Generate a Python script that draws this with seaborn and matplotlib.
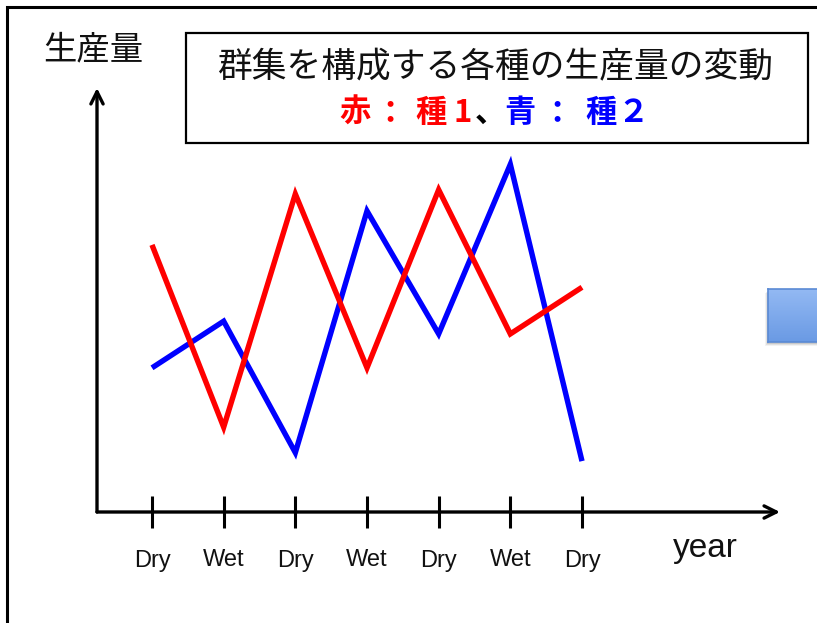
import numpy as np
import pandas as pd
import matplotlib
matplotlib.use("Agg")
import matplotlib.pyplot as plt
import seaborn as sns
from matplotlib.patches import Rectangle

# Seasons along the time axis and production of the two species
seasons = ["Dry", "Wet", "Dry", "Wet", "Dry", "Wet", "Dry"]
species1 = [6.3, 2.0, 7.5, 3.4, 7.6, 4.2, 5.3]   # 種1 (red)
species2 = [3.4, 4.5, 1.4, 7.1, 4.2, 8.2, 1.2]   # 種2 (blue)

title_text = "群集を構成する各種の生産量の変動"
# colour key under the title, one glyph at a time (spaced out like the slide)
key_chars = ["赤", "：", "種", "1", "、", "青", "：", "種", "２"]
key_colors = ["#ff0000"] * 4 + ["#000000"] + ["#0000ff"] * 4
y_label = "生産量"
x_label = "year"

sns.set_theme(style="white")
plt.rcParams["font.family"] = ["Liberation Sans", "Noto Sans CJK JP", "DejaVu Sans"]
JP = ["Noto Sans CJK JP", "DejaVu Sans"]

W, H = 817, 623
fig = plt.figure(figsize=(W / 100, H / 100), dpi=100)
fig.patch.set_facecolor("white")


def fx(x):
    return x / W


def fy(y):
    return 1 - y / H


# slide frame running off the right and bottom edges
fig.add_artist(Rectangle((fx(7), -0.1), 1.2, fy(7) + 0.1, transform=fig.transFigure,
                         fill=False, ec="black", lw=2.2))

# main plotting area: origin at the axis corner, arrows at the far ends
x0, x1, ytop, ybot = 97, 780, 88, 512
first_tick, last_tick = 152, 582
step = (last_tick - first_tick) / (len(seasons) - 1)
ax = fig.add_axes([fx(x0), fy(ybot), (x1 - x0) / W, (ybot - ytop) / H])
ax.set_xlim((x0 - first_tick) / step, (x1 - first_tick) / step)
ax.set_ylim(0, 10)
ax.patch.set_alpha(0)

df = pd.DataFrame({"t": np.arange(len(seasons)), "s1": species1, "s2": species2})
sns.lineplot(data=df, x="t", y="s2", color="#0000ff", lw=3.9, ax=ax,
             solid_capstyle="butt", solid_joinstyle="miter")
sns.lineplot(data=df, x="t", y="s1", color="#ff0000", lw=3.9, ax=ax,
             solid_capstyle="butt", solid_joinstyle="miter")

for s in ax.spines.values():
    s.set_visible(False)
ax.set_xlabel("")
ax.set_ylabel("")
ax.set_yticks([])
ax.set_xticks(range(len(seasons)))
ax.set_xticklabels(seasons)
ax.tick_params(axis="x", bottom=True, direction="inout", length=23, width=2.2,
               color="black", pad=15.5, labelsize=17, labelcolor="#111111")

arrow = dict(arrowstyle="->", lw=2.4, color="black", mutation_scale=22,
             shrinkA=0, shrinkB=0)
ax.annotate("", xy=(1, 0), xytext=(0, 0), xycoords="axes fraction",
            textcoords="axes fraction", arrowprops=arrow, annotation_clip=False)
ax.annotate("", xy=(0, 1), xytext=(0, 0), xycoords="axes fraction",
            textcoords="axes fraction", arrowprops=arrow, annotation_clip=False)

fig.text(fx(93), fy(50), y_label, ha="center", va="center", fontsize=24,
         family=JP, color="#111111")
fig.text(fx(673), fy(548), x_label, ha="left", va="center", fontsize=24,
         color="#111111")

# title box
fig.add_artist(Rectangle((fx(186), fy(143)), (808 - 186) / W, (143 - 33) / H,
                         transform=fig.transFigure, fc="white", ec="black", lw=1.6))
fig.text(fx(495), fy(68), title_text, ha="center", va="center", fontsize=25,
         family=JP, color="#111111")
key_x = [355, 390, 431, 463, 490, 520, 557, 601, 633]
for ch, col, xp in zip(key_chars, key_colors, key_x):
    fig.text(fx(xp), fy(122), ch, ha="center", va="baseline", fontsize=22.5,
             family=JP, color=col, fontweight="bold")

# blue button shape at the right edge with a soft shadow behind it
for k, a in enumerate([0.10, 0.07, 0.05]):
    off = 2 + k
    fig.add_artist(Rectangle((fx(768 - off + 1), fy(342 + off)), 0.2, (342 - 289) / H,
                             transform=fig.transFigure, fc="black", ec="none",
                             alpha=a, zorder=-1))
bax = fig.add_axes([fx(768), fy(342), (W - 768 + 20) / W, (342 - 289) / H], zorder=3)
grad = np.linspace(0, 1, 64).reshape(-1, 1)
top = np.array([0x93, 0xB9, 0xF3]) / 255
bot = np.array([0x6A, 0x9A, 0xE4]) / 255
img = top + (bot - top) * grad[..., None]
bax.imshow(img, aspect="auto", extent=[0, 1, 0, 1])
bax.set_xticks([])
bax.set_yticks([])
for s in bax.spines.values():
    s.set_color("#5A8AD4")
    s.set_linewidth(1.2)

fig.savefig("out.png", dpi=100, facecolor="white")
